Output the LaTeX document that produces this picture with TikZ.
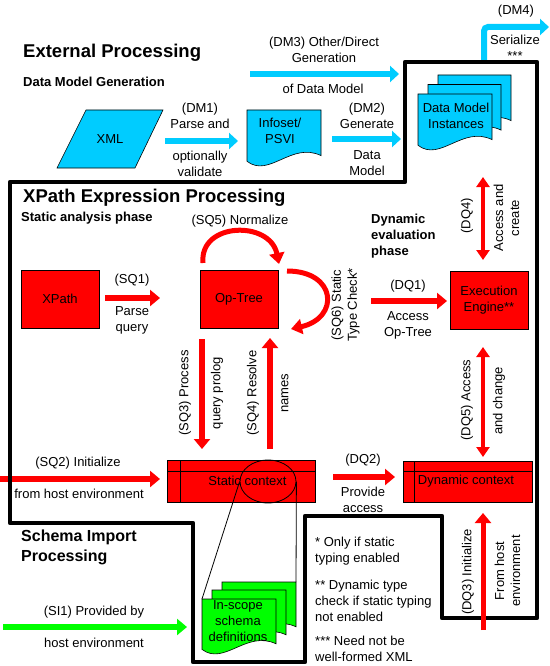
\documentclass[tikz,border=0pt]{standalone}
\usepackage{fontspec}
\setmainfont{Liberation Sans}
\usetikzlibrary{arrows.meta,shapes.geometric}
\definecolor{cy}{RGB}{0,204,255}
\definecolor{rd}{RGB}{255,0,0}
\definecolor{gr}{RGB}{0,255,0}
\newcommand\docshape[5]{%
  \filldraw[fill=#5,draw=black,line width=0.6pt] (#1,#2) -- (#1+#3,#2) -- (#1+#3,#2+0.8*#4)
    .. controls (#1+0.6*#3,#2+0.55*#4) and (#1+0.3*#3,#2+1.2*#4) .. (#1,#2+0.9*#4) -- cycle;}
\begin{document}
\begin{tikzpicture}[x=1pt,y=-1pt,
  lbl/.style={inner sep=0pt,align=center,font=\fontsize{13}{16}\selectfont},
  lblw/.style={lbl,anchor=west,align=left},
  ttl/.style={inner sep=0pt,anchor=west,align=left,font=\fontsize{18.5}{22}\selectfont\bfseries},
  sub/.style={inner sep=0pt,anchor=west,align=left,font=\fontsize{13}{16}\selectfont\bfseries},
  subbig/.style={inner sep=0pt,anchor=west,align=left,font=\fontsize{16}{20}\selectfont\bfseries},
  redbox/.style={draw=black,line width=0.7pt,fill=rd,minimum width=78pt,minimum height=58pt,inner sep=0pt,align=center,font=\fontsize{13}{16}\selectfont},
  ctxbox/.style={draw=black,line width=0.7pt,fill=rd,inner sep=0pt},
  cyarr/.style={draw=cy,line width=6pt,-{Triangle[length=9pt,width=16pt]}},
  rdarr/.style={draw=rd,line width=6pt,-{Triangle[length=10pt,width=16pt]}},
  grarr/.style={draw=gr,line width=6pt,-{Triangle[length=10pt,width=16pt]}},
  rddbl/.style={draw=rd,line width=4pt,{Triangle[length=10pt,width=13pt]}-{Triangle[length=10pt,width=13pt]}},
  rdcurve/.style={draw=rd,line width=5pt,-{Triangle[length=11pt,width=15pt]}},
  bigframe/.style={draw=black,line width=4.5pt,line join=round}
]
\useasboundingbox (0,0) rectangle (549,666);

% ---------- titles ----------
\node[ttl] (t1) at (23,53) {External Processing};
\node[sub] (t2) at (23,82) {Data Model Generation};
\node[ttl] (t3) at (23,198) {XPath Expression Processing};
\node[sub] (t4) at (21,218) {Static analysis phase};
\node[sub] (t5) at (371,236) {Dynamic\\evaluation\\phase};
\node[subbig] (t6) at (21,547) {Schema Import\\Processing};

% ---------- data model generation ----------
\filldraw[fill=cy,draw=black,line width=0.6pt] (86,110) -- (163,110) -- (135,168) -- (57,168) -- cycle;
\node[lbl] (xml) at (110,139) {XML};
\docshape{247}{110}{74}{57}{cy}
\node[lbl] (inf) at (280,131) {Infoset/\\PSVI};
\docshape{438}{75}{73}{57}{cy}
\docshape{428}{84.5}{73}{57}{cy}
\docshape{418}{94}{74}{57}{cy}
\node[lbl] (dmi) at (456,116) {Data Model\\Instances};

\coordinate (dm1a) at (165,141); \coordinate (dm1b) at (238,141);
\coordinate (dm2a) at (332,139); \coordinate (dm2b) at (401,139);
\coordinate (dm3a) at (250,74);  \coordinate (dm3b) at (399,74);
\coordinate (dm4a) at (484,63);  \coordinate (dm4c) at (484,27); \coordinate (dm4b) at (549,27);
\draw[cyarr] (dm1a) -- (dm1b);
\draw[cyarr] (dm2a) -- (dm2b);
\draw[cyarr] (dm3a) -- (dm3b);
\draw[cyarr,rounded corners=4pt] (dm4a) -- (dm4c) -- (dm4b);

\node[lbl] (l1a) at (200,116) {(DM1)\\Parse and};
\node[lbl] (l1b) at (200,164) {optionally\\validate};
\node[lbl] (l2a) at (367,115.5) {(DM2)\\Generate};
\node[lbl] (l2b) at (367,163) {Data\\Model};
\node[lbl] (l3a) at (324,50) {(DM3) Other/Direct\\Generation};
\node[lbl] (l3b) at (323,89) {of Data Model};
\node[lbl] (l4a) at (516,11) {(DM4)};
\node[lbl] (l4b) at (515,48) {Serialize\\***};

% ---------- XPath expression processing ----------
\node[redbox] (xpath) at (60,299) {XPath};
\node[redbox] (optree) at (239,299) {Op-Tree};
\node[redbox] (exec) at (489,300) {Execution\\Engine**};

\coordinate (sq1a) at (105,298); \coordinate (sq1b) at (160,298);
\coordinate (dq1a) at (371,301); \coordinate (dq1b) at (447,301);
\draw[rdarr] (sq1a) -- (sq1b);
\draw[rdarr] (dq1a) -- (dq1b);
\node[lbl] (s1a) at (132,280) {(SQ1)};
\node[lbl] (s1b) at (132,320) {Parse\\query};
\node[lbl] (d1a) at (408,286) {(DQ1)};
\node[lbl] (d1b) at (408,325) {Access\\Op-Tree};

% SQ5 / SQ6 curves
\coordinate (sq5a) at (203,263); \coordinate (sq5b) at (279,264);
\draw[rdcurve] (sq5a) .. controls (199,222) and (270,220) .. (sq5b);
\node[lbl] (s5) at (240,221) {(SQ5) Normalize};
\coordinate (sq6a) at (287,271); \coordinate (sq6b) at (291,329);
\draw[rdcurve] (sq6a) .. controls (337,271) and (340,318) .. (sq6b);
\node[lbl,rotate=90] (s6) at (345.5,305) {(SQ6) Static\\Type Check*};

% static / dynamic context
\node[ctxbox,minimum width=148pt,minimum height=42pt] (statctx) at (241,481) {};
\draw[line width=0.7pt] (167,471) -- (315,471) (180,460) -- (180,502);
\node[lbl] (sct) at (247.5,481) {Static context};
\node[ctxbox,minimum width=129pt,minimum height=41pt] (dynctx) at (467.5,481.5) {};
\draw[line width=0.7pt] (403,471) -- (532,471) (414,461) -- (414,502);
\node[lbl] (dct) at (466,481) {Dynamic context};

\coordinate (sq3a) at (202,339); \coordinate (sq3b) at (202,449);
\coordinate (sq4a) at (270,449); \coordinate (sq4b) at (270,338);
\draw[rdarr] (sq3a) -- (sq3b);
\draw[rdarr] (sq4a) -- (sq4b);
\node[lbl,rotate=90] (s3a) at (185,393) {(SQ3) Process};
\node[lbl,rotate=90] (s3b) at (217,393) {query prolog};
\node[lbl,rotate=90] (s4a) at (253,393) {(SQ4) Resolve};
\node[lbl,rotate=90] (s4b) at (285,393) {names};

\coordinate (sq2a) at (0,479); \coordinate (sq2b) at (160,479);
\draw[rdarr] (sq2a) -- (sq2b);
\node[lbl] (s2a) at (78,463) {(SQ2) Initialize};
\node[lbl] (s2b) at (79,494) {from host environment};

\coordinate (dq2a) at (333,477); \coordinate (dq2b) at (395,477);
\draw[rdarr] (dq2a) -- (dq2b);
\node[lbl] (d2a) at (363,460) {(DQ2)};
\node[lbl] (d2b) at (363,499.5) {Provide\\access};

\coordinate (dq4a) at (483,177); \coordinate (dq4b) at (483,260);
\draw[rddbl] (dq4a) -- (dq4b);
\node[lbl,rotate=90] (d4a) at (467,216) {(DQ4)};
\node[lbl,rotate=90] (d4b) at (506.5,218) {Access and\\create};

\coordinate (dq5a) at (483,347); \coordinate (dq5b) at (483,457);
\draw[rddbl] (dq5a) -- (dq5b);
\node[lbl,rotate=90] (d5a) at (467,400) {(DQ5) Access};
\node[lbl,rotate=90] (d5b) at (499,401) {and change};

% ---------- schema import ----------
\docshape{222}{582}{74}{56}{gr}
\docshape{212}{590}{74}{56}{gr}
\docshape{202}{599}{74}{56}{gr}
\coordinate (sfnw) at (202,599);
\coordinate (sbne) at (296,582);
\node[lbl] (isd) at (238,621.5) {In-scope\\schema\\definitions};
\node[draw=black,line width=0.8pt,ellipse,minimum width=56pt,minimum height=43pt,inner sep=0pt] (ctxell) at (268,481.5) {};
\draw[line width=0.8pt] (ctxell.west) -- (sfnw);
\draw[line width=0.8pt] (ctxell.east) -- (sbne);

\coordinate (si1a) at (3,627); \coordinate (si1b) at (187,627);
\draw[grarr] (si1a) -- (si1b);
\node[lbl] (si1) at (94,612) {(SI1) Provided by};
\node[lbl] (si2) at (94,643) {host environment};

% ---------- frame ----------
\draw[bigframe] (10,182) -- (405,182) -- (405,62) -- (537,62) -- (537,618) -- (442,618)
  -- (442,516) -- (305,516) -- (305,662) -- (193,662) -- (193,523) -- (10,523) -- cycle;

\coordinate (dq3a) at (483,630); \coordinate (dq3b) at (483,513);
\draw[rdarr,line width=5pt] (dq3a) -- (dq3b);
\node[lbl,rotate=90] (d3a) at (468,572) {(DQ3) Initialize};
\node[lbl,rotate=90] (d3b) at (507.5,571) {From host\\environment};

% ---------- footnotes ----------
\node[lblw] (f1) at (315,551) {* Only if static\\typing enabled};
\node[lblw] (f2) at (315,601) {** Dynamic type\\check if static typing\\not enabled};
\node[lblw] (f3) at (315,649) {*** Need not be\\well-formed XML};
\end{tikzpicture}
\end{document}
